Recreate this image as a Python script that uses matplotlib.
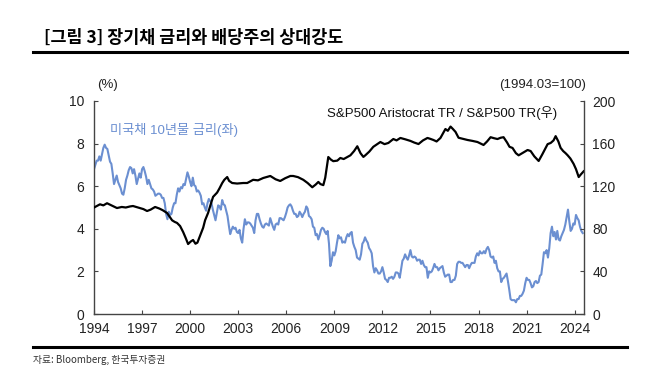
import numpy as np
import pandas as pd
import matplotlib
matplotlib.use("Agg")
import matplotlib.pyplot as plt

plt.rcParams['font.family'] = ['Liberation Sans', 'Noto Sans CJK KR', 'DejaVu Sans']

# ---- Data ----
# US 10Y Treasury yield (%), monthly from 1994-03
ust10 = [
    6.8, 7.0, 7.2, 7.2, 7.4, 7.2, 7.5, 7.8, 7.95, 7.8,
    7.75, 7.45, 7.15, 7.05, 6.6, 6.1, 6.3, 6.5, 6.2, 6.05, 5.9, 5.65,
    5.6, 5.9, 6.3, 6.5, 6.75, 6.9, 6.85, 6.6, 6.8, 6.5, 6.1, 6.35,
    6.6, 6.4, 6.8, 6.9, 6.7, 6.45, 6.1, 6.3, 6.1, 5.9, 5.85, 5.75,
    5.55, 5.6, 5.65, 5.65, 5.6, 5.45, 5.45, 5.2, 4.7, 4.45, 4.8, 4.65,
    4.7, 5.0, 5.2, 5.2, 5.6, 5.9, 5.75, 5.95, 5.9, 6.1, 6.05, 6.35,
    6.65, 6.45, 6.2, 6.0, 6.4, 6.05, 6.0, 5.75, 5.8, 5.7, 5.55, 5.15,
    5.2, 5.0, 4.85, 5.2, 5.4, 5.3, 5.2, 4.9, 4.65, 4.4, 4.75, 5.1,
    5.05, 4.9, 5.35, 5.15, 5.1, 4.85, 4.6, 4.15, 3.75, 3.95, 4.1, 4.0,
    4.05, 3.85, 3.8, 3.95, 3.55, 3.35, 4.0, 4.45, 4.2, 4.3, 4.3, 4.25,
    4.15, 4.05, 3.8, 4.4, 4.7, 4.7, 4.45, 4.25, 4.1, 4.05, 4.2, 4.25,
    4.2, 4.15, 4.5, 4.3, 4.1, 3.95, 4.2, 4.25, 4.2, 4.5, 4.5, 4.45,
    4.4, 4.55, 4.75, 5.0, 5.1, 5.15, 5.05, 4.85, 4.7, 4.7, 4.55, 4.6,
    4.8, 4.7, 4.55, 4.7, 4.8, 5.05, 4.95, 4.6, 4.55, 4.45, 4.1, 4.05,
    3.7, 3.75, 3.5, 3.7, 3.95, 4.05, 4.0, 3.85, 3.75, 3.9, 3.3, 2.25,
    2.5, 2.9, 2.75, 2.95, 3.35, 3.7, 3.55, 3.6, 3.35, 3.4, 3.35, 3.6,
    3.75, 3.65, 3.8, 3.85, 3.35, 3.15, 3.0, 2.65, 2.6, 2.55, 2.8, 3.3,
    3.4, 3.6, 3.45, 3.35, 3.1, 3.0, 2.85, 2.25, 1.95, 2.15, 2.05, 1.9,
    1.9, 2.0, 2.2, 1.95, 1.65, 1.6, 1.5, 1.7, 1.7, 1.75, 1.65, 1.75,
    1.95, 1.95, 1.9, 1.7, 2.1, 2.5, 2.6, 2.8, 2.65, 2.55, 2.75, 3.0,
    2.7, 2.65, 2.7, 2.65, 2.5, 2.55, 2.55, 2.35, 2.5, 2.3, 2.2, 2.2,
    1.7, 2.0, 1.95, 2.0, 2.15, 2.35, 2.2, 2.2, 2.05, 2.15, 2.2, 2.25,
    1.95, 1.75, 1.8, 1.85, 1.85, 1.5, 1.5, 1.6, 1.6, 1.8, 2.35, 2.45,
    2.45, 2.4, 2.4, 2.3, 2.2, 2.3, 2.3, 2.15, 2.3, 2.4, 2.4, 2.4,
    2.7, 2.85, 2.75, 2.95, 2.85, 2.85, 2.95, 2.85, 3.05, 3.15, 3.0, 2.7,
    2.65, 2.7, 2.4, 2.5, 2.15, 2.0, 2.0, 1.5, 1.65, 1.7, 1.8, 1.9,
    1.55, 1.15, 0.7, 0.65, 0.65, 0.65, 0.55, 0.7, 0.7, 0.85, 0.85, 0.95,
    1.1, 1.45, 1.7, 1.6, 1.6, 1.45, 1.25, 1.3, 1.5, 1.55, 1.45, 1.5,
    1.8, 1.85, 2.35, 2.9, 2.85, 3.0, 2.65, 3.1, 3.8, 4.1, 3.65, 3.85,
    3.5, 3.9, 3.5, 3.45, 3.65, 3.8, 3.95, 4.2, 4.55, 4.9, 4.35, 3.9,
    4.0, 4.25, 4.2, 4.65, 4.5, 4.4, 4.1, 3.9, 3.8,
]
ust_dates = pd.date_range("1994-03-01", periods=len(ust10), freq="MS")

# S&P500 Aristocrat TR / S&P500 TR (1994.03=100), fractional-year dates
ratio_t = [
    1994.17, 1994.35, 1994.54, 1994.75, 1994.98, 1995.25, 1995.60, 1995.90,
    1996.15, 1996.42, 1996.60, 1996.80, 1997.04, 1997.25, 1997.48, 1997.70,
    1997.98, 1998.25, 1998.45, 1998.60, 1998.73, 1998.90, 1999.04, 1999.20,
    1999.35, 1999.54, 1999.73, 1999.90, 2000.04, 2000.20, 2000.35, 2000.50,
    2000.62, 2000.80, 2000.98, 2001.10, 2001.29, 2001.45, 2001.60, 2001.85,
    2002.00, 2002.17, 2002.30, 2002.48, 2002.60, 2002.79, 2003.10, 2003.48,
    2003.73, 2004.10, 2004.40, 2004.73, 2005.17, 2005.50, 2005.79, 2006.10,
    2006.42, 2006.60, 2006.90, 2007.23, 2007.50, 2007.79, 2008.00, 2008.17,
    2008.30, 2008.48, 2008.60, 2008.70, 2008.79, 2008.95, 2009.10, 2009.35,
    2009.54, 2009.75, 2009.98, 2010.17, 2010.40, 2010.60, 2010.80, 2010.98,
    2011.10, 2011.35, 2011.60, 2011.80, 2012.04, 2012.30, 2012.54, 2012.85,
    2013.05, 2013.29, 2013.60, 2013.92, 2014.15, 2014.42, 2014.70, 2014.98,
    2015.15, 2015.35, 2015.55, 2015.79, 2016.10, 2016.25, 2016.42, 2016.55,
    2016.73, 2016.92, 2017.20, 2017.48, 2017.80, 2018.10, 2018.30, 2018.48,
    2018.70, 2018.92, 2019.15, 2019.35, 2019.55, 2019.73, 2019.95, 2020.10,
    2020.29, 2020.50, 2020.67, 2020.95, 2021.23, 2021.42, 2021.65, 2021.92,
    2022.15, 2022.48, 2022.67, 2022.85, 2022.98, 2023.15, 2023.29, 2023.45,
    2023.60, 2023.73, 2023.90, 2024.10, 2024.25, 2024.42, 2024.55, 2024.73,
]
ratio_v = [
    100, 101.5, 103, 102, 104, 102, 99.5, 100.5,
    100, 101, 101.4, 100.5, 99.5, 98.5, 96.7, 98,
    100.5, 99, 97.5, 96, 94.8, 91, 88, 86.5,
    85.5, 82.6, 77, 71, 65.7, 68, 69.5, 66,
    67, 74, 81, 88, 95, 103, 110, 114,
    118, 123, 126, 128.6, 125, 123, 122.5, 123,
    123, 126, 125.5, 127.7, 129.6, 126.5, 124.9, 127.5,
    129.6, 129.6, 128.5, 126, 123, 119, 121.5, 124,
    122, 121, 128, 138, 147.4, 145, 143.5, 144,
    146.5, 145.5, 147.4, 149, 153, 157.5, 151, 147.5,
    149, 152.5, 157, 159, 161.5, 159.5, 160.6, 164.3,
    163, 165.3, 164, 162.5, 161, 159.6, 163, 165.3,
    164.5, 163.4, 162, 165.3, 173.7, 172, 176, 174,
    171, 165.5, 164.5, 163.4, 162.5, 161.5, 160, 158.7,
    162, 166, 165, 164.3, 165.5, 166, 161, 157,
    155.9, 151, 149, 151.5, 154, 153, 148, 143.7,
    150, 159.5, 160.6, 163, 167, 162, 156, 153,
    151, 149, 146, 141, 136, 128.6, 131, 134,
]

year_labels = [1994, 1997, 2000, 2003, 2006, 2009, 2012, 2015, 2018, 2021, 2024]
left_ticks = [0, 2, 4, 6, 8, 10]
right_ticks = [0, 40, 80, 120, 160, 200]

# ---- Figure ----
W, H = 670, 388
fig = plt.figure(figsize=(W / 100, H / 100), dpi=100)
ax = fig.add_axes([94 / W, 1 - 314 / H, (584 - 94) / W, (314 - 101) / H])
ax2 = ax.twinx()

t_ust = ust_dates.year + (ust_dates.month - 1) / 12.0
blue = "#6b8fd1"
ax.plot(t_ust, ust10, color=blue, lw=1.5)
ax2.plot(ratio_t, ratio_v, color="black", lw=1.6)

ax.set_xlim(1994 + 2 / 12, 2024.75)
ax.set_ylim(0, 10)
ax2.set_ylim(0, 200)
ax.set_yticks(left_ticks)
ax2.set_yticks(right_ticks)
ax.set_xticks([y + 2 / 12 for y in year_labels])
ax.set_xticklabels([str(y) for y in year_labels])

spine_c = "#444444"
for a in (ax, ax2):
    a.spines['top'].set_visible(False)
    for s in ('left', 'right', 'bottom'):
        a.spines[s].set_color(spine_c)
        a.spines[s].set_linewidth(1.0)
    a.tick_params(direction='in', length=3, color=spine_c, labelsize=10,
                  labelcolor="#222222")
ax.tick_params(axis='y', pad=7)
ax.tick_params(axis='x', pad=6)
ax2.tick_params(axis='y', pad=6)
ax2.spines['left'].set_visible(False)
ax2.spines['bottom'].set_visible(False)
ax.spines['right'].set_visible(False)

# Texts
fig.text(44 / W, 1 - 38 / H, "[그림 3] 장기채 금리와 배당주의 상대강도",
         fontsize=12.5, fontweight='bold', family=['Noto Sans CJK KR', 'DejaVu Sans'],
         va='center', ha='left')
fig.add_artist(plt.Line2D([33 / W, 627 / W], [1 - 52 / H, 1 - 52 / H], color='black', lw=2.2))
fig.add_artist(plt.Line2D([33 / W, 627 / W], [1 - 347 / H, 1 - 347 / H], color='black', lw=2.2))
fig.text(33 / W, 1 - 360 / H, "자료: Bloomberg, 한국투자증권", fontsize=7,
         color="#333333", family=['Noto Sans CJK KR', 'DejaVu Sans'], va='center', ha='left')

fig.text(97 / W, 1 - 85 / H, "(%)", fontsize=9.5, color="#222222", va='center', ha='left')
fig.text(586 / W, 1 - 85 / H, "(1994.03=100)", fontsize=9.5, color="#222222",
         va='center', ha='right')
fig.text(327 / W, 1 - 113 / H, "S&P500 Aristocrat TR / S&P500 TR(우)", fontsize=9.5,
         color="#111111", va='center', ha='left')
fig.text(110 / W, 1 - 130 / H, "미국채 10년물 금리(좌)", fontsize=9.5, color=blue,
         va='center', ha='left')

fig.savefig("out.png", dpi=100)
